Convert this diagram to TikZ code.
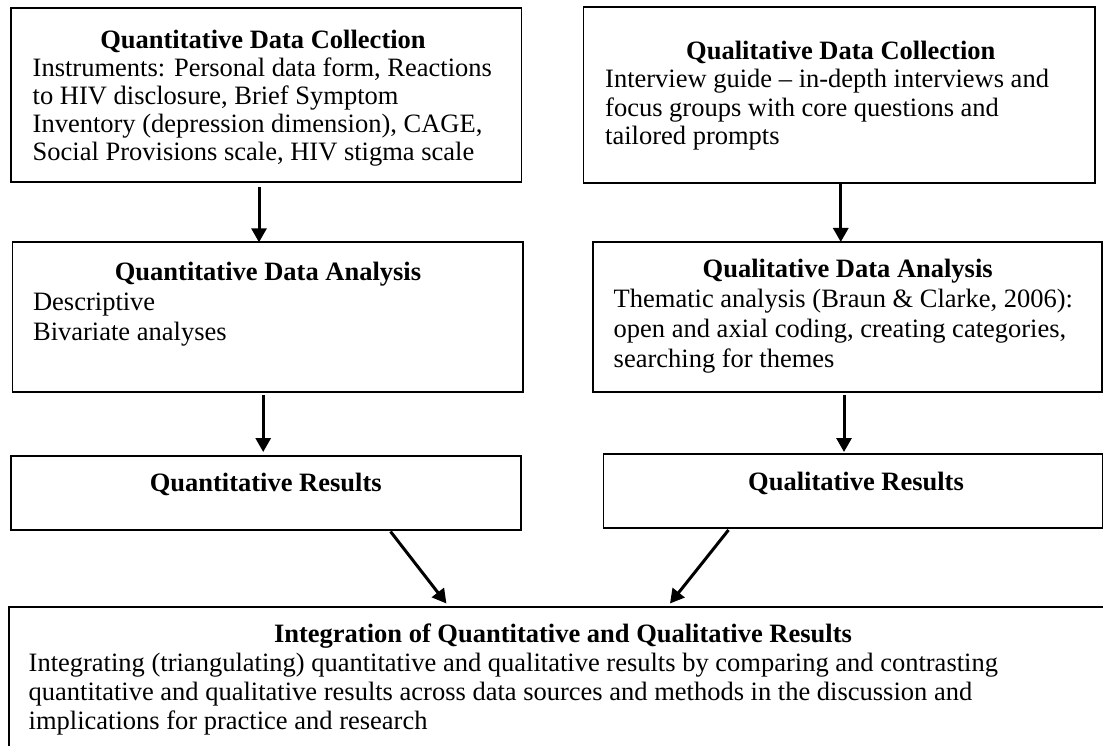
\documentclass[tikz,border=0pt]{standalone}
\usepackage{fontspec}
\setmainfont{Liberation Serif}
\usetikzlibrary{arrows.meta}

% one body line inside a stacked block
\newcommand\bline[1]{\hbox{#1}}
% stacked body lines with a fixed baseline distance (first line is the baseline)
\newcommand\bodytext[2]{\vtop{\baselineskip=#1pt\lineskiplimit=-1000pt\relax #2}}

\begin{document}
\begin{tikzpicture}[x=1pt,y=-1pt,
  box/.style={draw, line width=1.7pt, inner sep=0pt, outer sep=0pt},
  ttl/.style={anchor=base, inner sep=0pt, font=\fontsize{26.5}{30}\selectfont\bfseries},
  body/.style={anchor=base west, inner sep=0pt, font=\fontsize{26.5}{30}\selectfont},
  arr/.style={line width=3pt, -{Triangle[width=15pt,length=14pt]}}]

\useasboundingbox (0,0) rectangle (1103,746);
\fill[white] (0,0) rectangle (1103,746);

% ---- boxes ----
\node[box, minimum width=510.7pt, minimum height=173.4pt] (qnc) at (266,95) {};
\node[box, minimum width=511.5pt, minimum height=175.4pt] (qlc) at (839.25,95) {};
\node[box, minimum width=510.5pt, minimum height=150pt] (qna) at (267.75,317.3) {};
\node[box, minimum width=509pt, minimum height=150pt] (qla) at (847.5,317) {};
\node[box, minimum width=510pt, minimum height=74pt] (qnr) at (265.7,493) {};
\node[box, minimum width=499pt, minimum height=74pt] (qlr) at (853,491) {};
\node[box, minimum width=1108pt, minimum height=153pt] (integ) at (563,683.5) {};

% ---- quantitative data collection ----
\node[ttl] (qnc-t) at (263,49) {Quantitative Data Collection};
\node[body] (qnc-b) at (32.5,77) {\bodytext{28}{%
  \bline{Instruments: Personal data form, Reactions}%
  \bline{to HIV disclosure, Brief Symptom}%
  \bline{Inventory (depression dimension), CAGE,}%
  \bline{Social Provisions scale, HIV stigma scale}}};

% ---- qualitative data collection ----
\node[ttl] (qlc-t) at (840.8,60) {Qualitative Data Collection};
\node[body] (qlc-b) at (605,88) {\bodytext{28.3}{%
  \bline{Interview guide -- in-depth interviews and}%
  \bline{focus groups with core questions and}%
  \bline{tailored prompts}}};

% ---- quantitative data analysis ----
\node[ttl] (qna-t) at (268,280) {Quantitative Data Analysis};
\node[body] (qna-b) at (32.9,310) {\bodytext{30.7}{%
  \bline{Descriptive}%
  \bline{Bivariate analyses}}};

% ---- qualitative data analysis ----
\node[ttl] (qla-t) at (847.7,277) {Qualitative Data Analysis};
\node[body] (qla-b) at (613.5,307) {\bodytext{30}{%
  \bline{Thematic analysis (Braun \& Clarke, 2006):}%
  \bline{open and axial coding, creating categories,}%
  \bline{searching for themes}}};

% ---- results ----
\node[ttl] (qnr-t) at (265.7,491.7) {Quantitative Results};
\node[ttl] (qlr-t) at (856,490) {Qualitative Results};

% ---- integration ----
\node[ttl] (integ-t) at (563,642) {Integration of Quantitative and Qualitative Results};
\node[body] (integ-b) at (28.5,671) {\bodytext{29}{%
  \bline{Integrating (triangulating) quantitative and qualitative results by comparing and contrasting}%
  \bline{quantitative and qualitative results across data sources and methods in the discussion and}%
  \bline{implications for practice and research}}};

% ---- connectors ----
\draw[arr] ([xshift=-7pt,yshift=-5pt]qnc.south) -- ([xshift=-8.75pt]qna.north);
\draw[arr] ([xshift=-4.55pt,yshift=-3pt]qna.south) -- ([xshift=-2.5pt,yshift=4pt]qnr.north);
\draw[arr] ([xshift=1.5pt]qlc.south) -- ([xshift=-6.75pt]qla.north);
\draw[arr] ([xshift=-3.5pt,yshift=-3pt]qla.south) -- ([xshift=-9pt,yshift=2pt]qlr.north);
\draw[arr] ([xshift=124.8pt,yshift=-1.5pt]qnr.south) -- ([xshift=-116.6pt,yshift=3.5pt]integ.north);
\draw[arr] ([xshift=-124.5pt,yshift=-2pt]qlr.south) -- ([xshift=107pt,yshift=3.5pt]integ.north);
\end{tikzpicture}
\end{document}
